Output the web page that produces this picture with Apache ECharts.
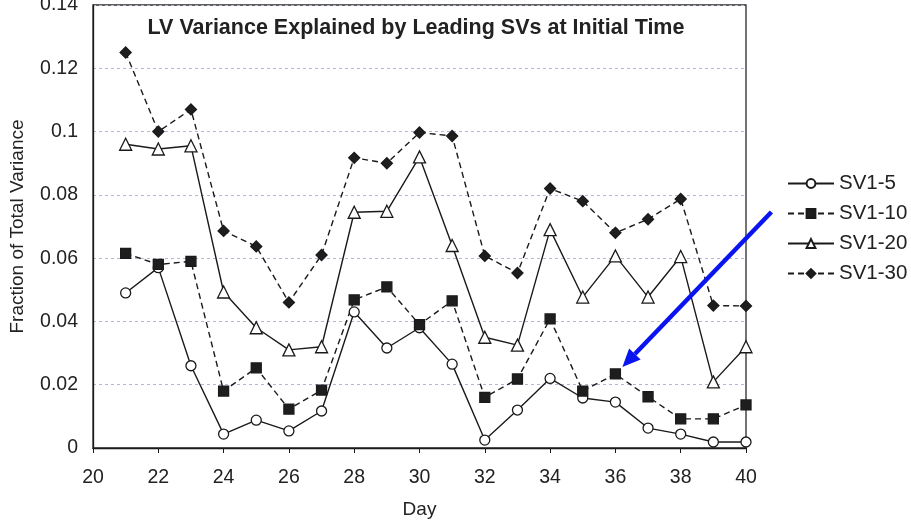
<!DOCTYPE html>
<html>
<head>
<meta charset="utf-8">
<script src="https://cdn.jsdelivr.net/npm/echarts@6/dist/echarts.min.js"></script>
<style>
  html, body { margin: 0; padding: 0; background: #fff; }
  #chart { width: 911px; height: 523px; }
</style>
</head>
<body>
<div id="chart"></div>
<script>
// Day of forecast (x values)
const days = [21, 22, 23, 24, 25, 26, 27, 28, 29, 30, 31, 32, 33, 34, 35, 36, 37, 38, 39, 40];

// Fraction of total LV variance explained by the leading singular vectors
const sv1to5  = [0.049, 0.057, 0.026, 0.0044, 0.0088, 0.0054, 0.0117, 0.043, 0.0316, 0.038, 0.0265, 0.0025, 0.012, 0.022, 0.0158, 0.0145, 0.0063, 0.0044, 0.0019, 0.0019];
const sv1to10 = [0.0615, 0.058, 0.059, 0.018, 0.0253, 0.0123, 0.0183, 0.0468, 0.0509, 0.039, 0.0465, 0.016, 0.0218, 0.0408, 0.018, 0.0234, 0.0162, 0.0092, 0.0092, 0.0136];
const sv1to20 = [0.096, 0.0945, 0.0955, 0.0493, 0.038, 0.031, 0.032, 0.0745, 0.0748, 0.092, 0.064, 0.035, 0.0325, 0.069, 0.0477, 0.0607, 0.0477, 0.0605, 0.0209, 0.032];
const sv1to30 = [0.125, 0.1, 0.107, 0.0686, 0.0637, 0.046, 0.061, 0.0917, 0.090, 0.0997, 0.0986, 0.0607, 0.0553, 0.082, 0.078, 0.068, 0.0723, 0.0787, 0.045, 0.0449];

const seriesNames = ['SV1-5', 'SV1-10', 'SV1-20', 'SV1-30'];
const yTicks = [0, 0.02, 0.04, 0.06, 0.08, 0.1, 0.12, 0.14];
const xTicks = [20, 22, 24, 26, 28, 30, 32, 34, 36, 38, 40];

// Day highlighted by the arrow on the SV1-10 curve
const highlightDay = 36;

const pairs = (ys) => days.map((d, i) => [d, ys[i]]);

const FONT = 'Liberation Sans, Arial, sans-serif';
const INK = '#1a1a1a';

function lineSeries(name, ys, symbol, fill, dashed, size) {
  return {
    name: name,
    type: 'line',
    data: pairs(ys),
    symbol: symbol,
    symbolSize: size,
    showSymbol: true,
    itemStyle: { color: fill, borderColor: INK, borderWidth: 1.3 },
    lineStyle: { color: INK, width: 1.4, type: dashed ? [6, 4] : 'solid' },
    emphasis: { disabled: true },
    animation: false,
    z: 3
  };
}

const chart = echarts.init(document.getElementById('chart'), null, { renderer: 'canvas' });

const option = {
  backgroundColor: '#ffffff',
  animation: false,
  title: {
    text: 'LV Variance Explained by Leading SVs at Initial Time',
    left: 411,
    top: 12,
    textAlign: 'center',
    textStyle: { fontFamily: FONT, fontSize: 21.5, fontWeight: 'bold', color: '#222' }
  },
  grid: {
    left: 93, right: 165, top: 5, bottom: 75,
    outerBoundsMode: 'none',
    containLabel: false,
    show: true, borderColor: '#2a2a2a', borderWidth: 1.3, backgroundColor: 'transparent'
  },
  legend: {
    orient: 'vertical',
    left: 782,
    top: 168,
    itemWidth: 46,
    itemHeight: 11,
    itemGap: 9,
    data: seriesNames,
    textStyle: { fontFamily: FONT, fontSize: 20.5, color: '#222' },
    selectedMode: false
  },
  xAxis: {
    type: 'value',
    min: 20,
    max: 40,
    interval: 2,
    name: 'Day',
    nameLocation: 'middle',
    nameGap: 52,
    nameTextStyle: { fontFamily: FONT, fontSize: 19, color: '#222' },
    axisLine: { lineStyle: { color: INK, width: 1.3 } },
    axisTick: { show: true, length: 5, lineStyle: { color: INK } },
    axisLabel: {
      fontFamily: FONT, fontSize: 19.5, color: '#222', margin: 20,
      formatter: (v) => xTicks.includes(v) ? String(v) : ''
    },
    splitLine: { show: false }
  },
  yAxis: {
    type: 'value',
    min: 0,
    max: 0.14,
    interval: 0.02,
    name: 'Fraction of Total Variance',
    nameLocation: 'middle',
    nameGap: 66,
    nameTextStyle: { fontFamily: FONT, fontSize: 19, color: '#222' },
    axisLine: { show: true, lineStyle: { color: INK, width: 1.3 } },
    axisTick: { show: false },
    axisLabel: {
      fontFamily: FONT, fontSize: 19.5, color: '#222', margin: 15,
      formatter: (v) => {
        const t = yTicks.find(k => Math.abs(k - v) < 1e-9);
        return t === undefined ? '' : String(+t.toFixed(2));
      }
    },
    splitLine: { show: true, lineStyle: { color: '#b9b3d6', type: [3, 3], width: 1 } }
  },
  series: [
    lineSeries(seriesNames[0], sv1to5, 'circle', '#ffffff', false, 10),
    lineSeries(seriesNames[1], sv1to10, 'rect', '#1e1e1e', true, 10),
    lineSeries(seriesNames[2], sv1to20, 'triangle', '#ffffff', false, 12),
    lineSeries(seriesNames[3], sv1to30, 'diamond', '#1e1e1e', true, 11)
  ]
};

chart.setOption(option);

// Blue annotation arrow pointing at the SV1-10 value on the highlighted day
const idx = days.indexOf(highlightDay);
const tip = chart.convertToPixel({ gridIndex: 0 }, [highlightDay, sv1to10[idx]]);
const tipX = tip[0] + 7, tipY = tip[1] - 7;
const tailX = tipX + 149, tailY = tipY - 155;
const ang = Math.atan2(tailY - tipY, tailX - tipX);
const headLen = 18, headHalf = 8;
const bx = tipX + headLen * Math.cos(ang), by = tipY + headLen * Math.sin(ang);
const px = -Math.sin(ang) * headHalf, py = Math.cos(ang) * headHalf;

chart.setOption({
  graphic: [
    {
      type: 'line',
      shape: { x1: tailX, y1: tailY, x2: bx, y2: by },
      style: { stroke: '#0a14f0', lineWidth: 4.5 },
      z: 10
    },
    {
      type: 'polygon',
      shape: { points: [[tipX, tipY], [bx + px, by + py], [bx - px, by - py]] },
      style: { fill: '#0a14f0' },
      z: 10
    }
  ]
});
</script>
</body>
</html>
